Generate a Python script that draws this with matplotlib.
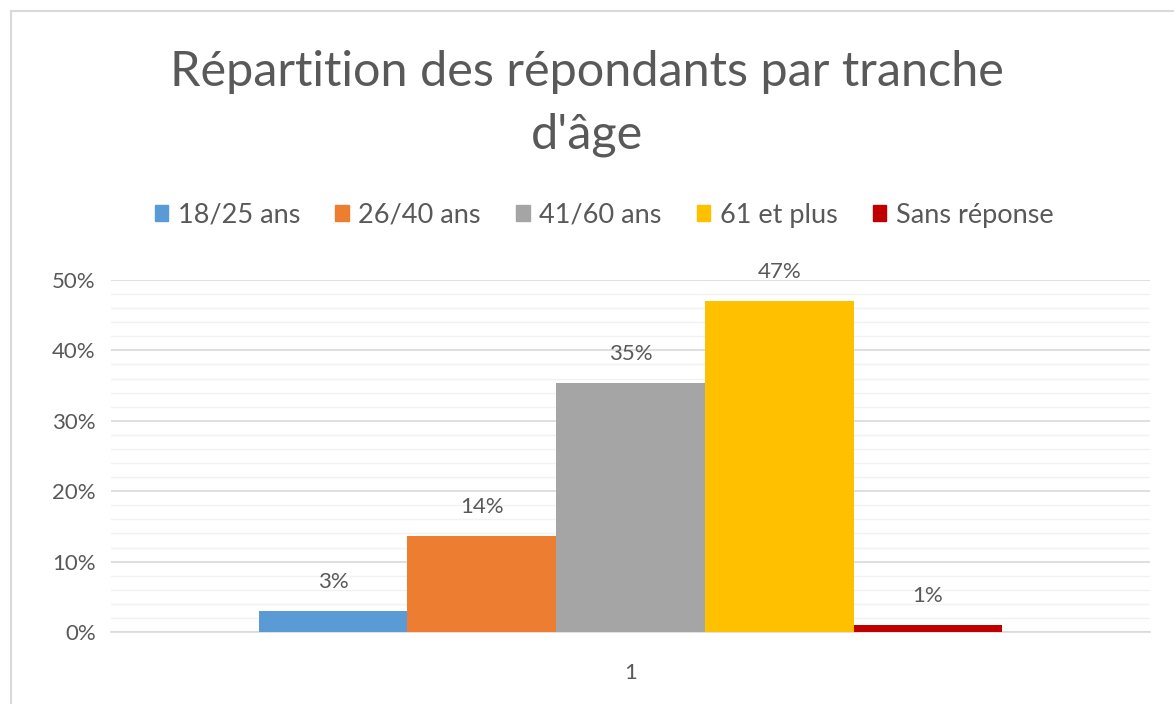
from matplotlib import pyplot as plt
from matplotlib.patches import Rectangle
from matplotlib.lines import Line2D
import numpy as np

# données
tranches = ['18/25 ans', '26/40 ans', '41/60 ans', '61 et plus', 'Sans réponse']
valeurs = [0.03, 0.136, 0.354, 0.47, 0.01]
etiquettes = ['3%', '14%', '35%', '47%', '1%']
couleurs = ['#5B9BD5', '#ED7D31', '#A5A5A5', '#FFC000', '#C00000']
categorie = ['1']

plt.rcParams['font.family'] = ['Lato', 'DejaVu Sans']
gris = '#595959'

fig = plt.figure(figsize=(11.74, 7.04), dpi=100)
ax = fig.add_axes([111/1174, 1-632/704, (1150-111)/1174, (632-280)/704])

n = len(tranches)
larg = 0.716/n
x0 = 0 - larg*n/2 + larg/2
for i in range(n):
    xi = x0 + i*larg
    ax.bar(xi, valeurs[i], width=larg, color=couleurs[i], label=tranches[i], zorder=3)
    ax.text(xi, valeurs[i] + 0.027, etiquettes[i], ha='center', va='bottom',
            fontsize=16, color=gris)

ax.set_xlim(-0.5, 0.5)
ax.set_ylim(0, 0.5)
ax.set_yticks(np.arange(0, 0.51, 0.1))
ax.set_yticklabels([f'{int(round(v*100))}%' for v in np.arange(0, 0.51, 0.1)])
ax.set_yticks(np.arange(0, 0.501, 0.02), minor=True)
ax.set_xticks([0])
ax.set_xticklabels(categorie)
ax.tick_params(axis='both', which='both', length=0, labelsize=16, labelcolor=gris)
ax.tick_params(axis='y', pad=11)
ax.tick_params(axis='x', pad=22)
ax.grid(axis='y', which='major', color='#D9D9D9', linewidth=1.2, zorder=0)
ax.grid(axis='y', which='minor', color='#F2F2F2', linewidth=1.0, zorder=0)
for s in ['top', 'right', 'left']:
    ax.spines[s].set_visible(False)
ax.spines['bottom'].set_color('#D9D9D9')
ax.spines['bottom'].set_linewidth(1.2)

fig.text(0.5, 1-72/704, 'Répartition des répondants par tranche', ha='center', va='center',
         fontsize=35, color=gris)
fig.text(0.5, 1-135/704, "d'âge", ha='center', va='center', fontsize=35, color=gris)

handles = [Rectangle((0, 0), 1, 1, color=c) for c in couleurs]
fig.legend(handles, tranches, loc='center', bbox_to_anchor=(604/1174, 1-215/704), ncol=n,
           frameon=False, fontsize=19.5, labelcolor=gris, handlelength=0.5, handleheight=0.5,
           handletextpad=0.35, columnspacing=1.3)

# cadre gris du graphique
fig.add_artist(Line2D([11/1174, 1], [1-11/704, 1-11/704], color='#D9D9D9', lw=1.5))
fig.add_artist(Line2D([11/1174, 11/1174], [0, 1-11/704], color='#D9D9D9', lw=1.5))

plt.savefig('out.png', dpi=100)
